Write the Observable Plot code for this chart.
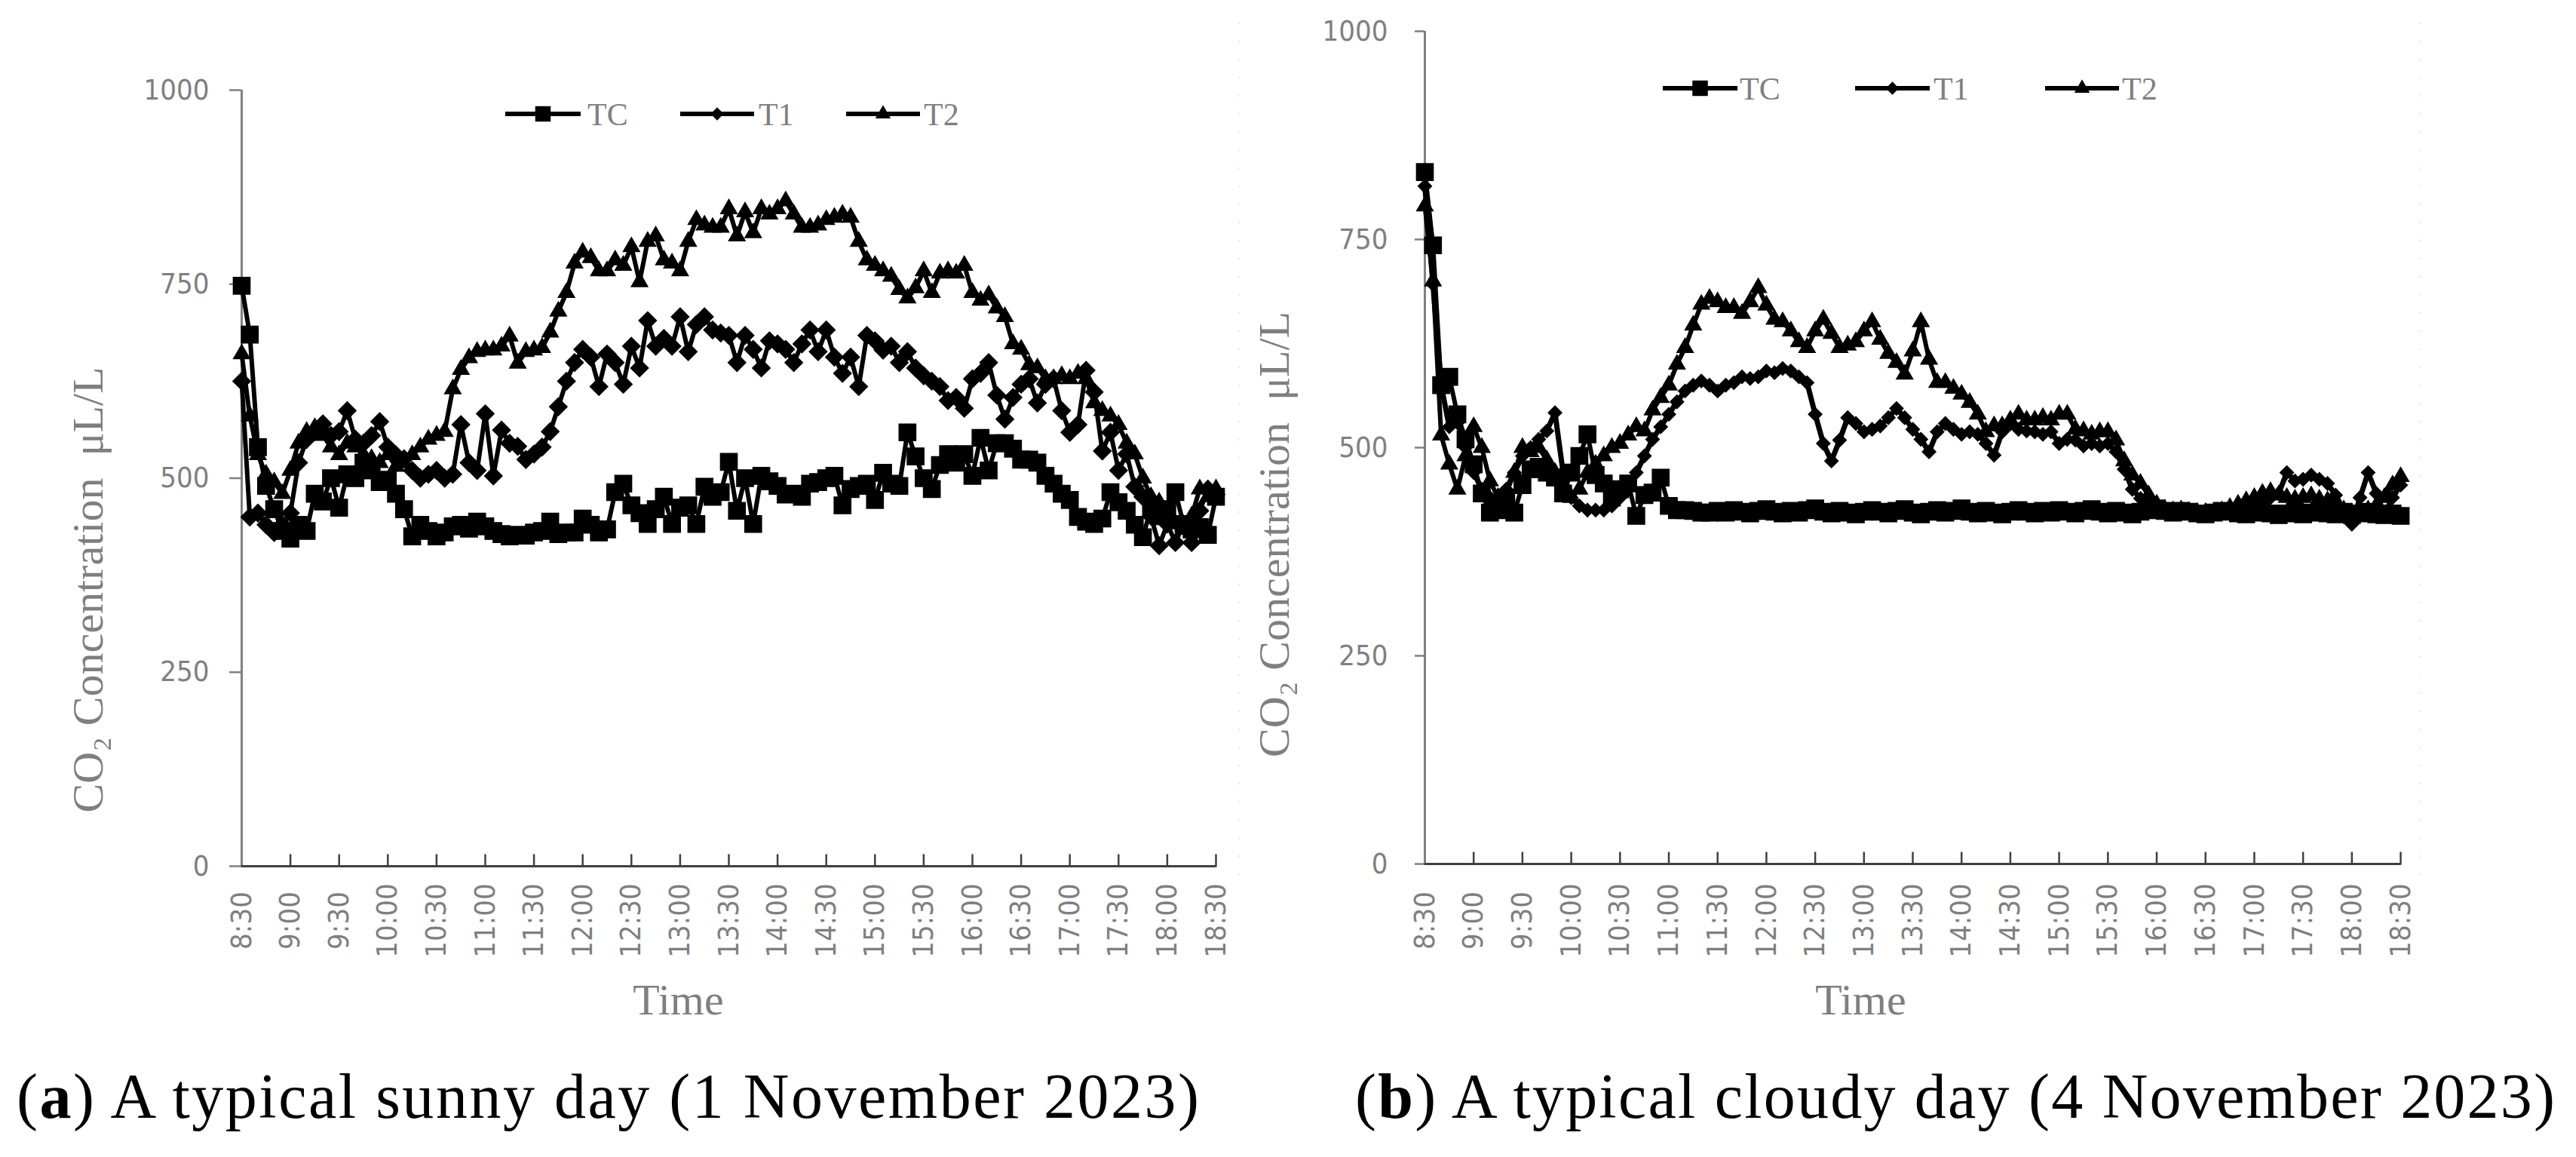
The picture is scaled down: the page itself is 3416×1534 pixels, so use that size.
<!DOCTYPE html>
<html>
<head>
<meta charset="utf-8">
<script src="https://cdn.jsdelivr.net/npm/d3@7"></script>
<script src="https://cdn.jsdelivr.net/npm/@observablehq/plot@0.6"></script>
<style>
html,body{margin:0;padding:0;background:#fff;}
#root{position:relative;width:3416px;height:1534px;overflow:hidden;background:#fff;}
#root > svg{position:absolute;top:0;}
</style>
</head>
<body>
<div id="root"></div>
<script>
// ---------------- data ----------------
const timeLabels = ["8:30","9:00","9:30","10:00","10:30","11:00","11:30","12:00","12:30","13:00","13:30","14:00","14:30","15:00","15:30","16:00","16:30","17:00","17:30","18:00","18:30"];
const yTicks = [0, 250, 500, 750, 1000];
const seriesNames = ["TC", "T1", "T2"];

// readings every 5 minutes, 8:30 .. 18:30 (121 values)
const sunnyTC = [748,685,540,490,460,432,422,440,432,480,470,500,462,505,500,520,510,495,498,480,
  460,425,440,432,425,430,438,440,435,444,438,432,428,425,427,426,430,432,444,428,
  430,430,448,440,430,434,482,493,465,455,441,460,476,441,462,465,441,489,476,482,
  521,458,500,441,503,496,490,479,480,476,493,495,500,503,465,486,490,493,472,507,
  493,490,559,528,500,486,517,531,520,531,503,552,510,545,545,538,524,524,520,503,
  493,480,472,450,444,441,448,482,469,458,440,424,462,451,460,482,441,434,437,427,476];
const sunnyT1 = [625,450,455,440,430,440,455,520,550,560,570,555,560,587,550,545,555,573,540,530,
  525,510,500,505,510,500,505,569,520,510,583,503,562,545,541,524,531,540,560,592,
  625,649,666,656,618,660,649,621,670,642,703,670,680,670,708,663,698,708,691,687,
  684,649,684,666,642,677,673,666,649,673,691,663,691,656,635,656,618,684,677,665,
  670,649,663,642,632,625,618,600,604,590,628,635,649,607,576,604,621,628,597,621,
  628,587,559,569,639,611,535,559,510,531,489,476,451,413,441,417,441,417,458,486,479];
const sunnyT2 = [660,580,530,505,495,480,510,545,560,565,555,540,530,545,540,530,525,520,530,515,
  520,530,540,550,555,560,615,640,655,663,665,665,670,683,648,663,665,668,688,715,
  739,777,791,784,767,767,781,774,798,753,805,812,781,777,767,805,833,826,823,823,
  847,812,843,816,847,840,847,857,840,823,823,826,833,836,840,836,805,781,774,767,
  760,743,732,745,767,739,764,767,764,774,739,729,736,719,708,673,666,646,642,628,
  628,632,628,635,628,597,587,580,569,545,531,500,476,469,455,441,434,451,486,476,486];

const cloudyTC = [831,743,575,585,540,510,480,445,422,425,440,422,455,474,477,470,464,445,470,490,
  516,467,457,440,450,457,418,443,446,464,430,425,425,424,422,422,424,422,425,423,
  421,424,426,423,421,424,422,425,427,423,421,424,422,420,423,425,423,421,424,426,
  422,420,423,425,422,424,427,423,421,424,422,420,423,425,423,421,424,422,425,423,
  421,424,426,423,421,424,422,420,423,425,427,424,422,424,423,421,420,422,424,423,
  421,420,422,424,421,419,421,423,420,422,424,421,420,423,419,421,423,420,419,421,418];
const cloudyT1 = [814,696,575,525,530,500,470,450,440,430,450,470,490,500,510,520,542,470,440,430,
  425,425,425,430,440,455,470,490,510,525,540,555,568,575,580,575,568,575,578,585,
  583,585,592,590,595,592,585,578,540,505,484,509,536,529,519,522,526,536,547,536,
  522,510,495,519,529,522,516,519,516,505,491,519,529,522,520,519,516,519,505,510,
  509,502,505,502,505,495,474,450,439,432,425,424,422,424,423,422,421,420,422,424,
  428,432,436,438,440,445,470,460,462,467,462,457,443,425,408,440,470,445,420,440,455];
const cloudyT2 = [790,700,515,480,450,490,525,500,460,440,445,470,500,495,500,485,470,445,440,450,
  470,480,490,500,505,515,525,520,545,560,575,600,620,647,672,679,675,668,668,661,
  675,692,671,654,651,640,627,620,640,654,637,620,623,627,640,651,630,613,602,588,
  616,651,606,578,578,571,564,554,540,519,526,526,533,540,533,533,536,533,540,540,
  522,520,516,519,519,509,484,467,457,443,432,426,424,425,423,422,422,421,424,428,
  432,436,440,445,447,443,440,438,440,442,438,436,432,425,420,420,425,430,440,455,465];

const captionTags = ["a", "b"];
const captionTexts = [" A typical sunny day (1 November 2023)", " A typical cloudy day (4 November 2023)"];

// ---------------- drawing ----------------
const STEP = 5;
const GRAY = "#7f7f7f";
const SERIF = "'Liberation Serif','Times New Roman',serif";
const SANS = "'Liberation Sans Narrow','DejaVu Sans Condensed','Roboto',sans-serif";
const tickShape = {draw(context, l) { context.moveTo(0, 0); context.lineTo(0, -l); }};

function rows(values) { return values.map((v, i) => ({t: i * STEP, v})); }

function makePanel(cfg) {
  const tickData = timeLabels.map((label, i) => ({t: i * 30, label}));
  const marks = [
    Plot.axisY(yTicks, {label: null, tickSize: cfg.tickSizeY, tickPadding: cfg.tickPadY,
      tickFormat: d => String(d), fontSize: 38, color: GRAY, strokeWidth: 2.5}),
    Plot.vector(tickData, {x: "t", frameAnchor: "bottom", length: 15, anchor: "start",
      rotate: 0, shape: tickShape, stroke: "#404040", strokeWidth: 2.5}),
    Plot.text(tickData, {x: "t", text: "label", frameAnchor: "bottom", rotate: -90,
      dy: cfg.xLabelDy, textAnchor: "middle", lineAnchor: "middle", fontSize: 38, fill: GRAY}),
    Plot.text(["Time"], {frameAnchor: "bottom", dx: cfg.timeDx, dy: cfg.timeDy,
      textAnchor: "middle", lineAnchor: "middle", fontFamily: SERIF, fontSize: 58, fill: GRAY}),
    Plot.text(["CO\u2082 Concentration\u00a0\u00a0\u03bcL/L"], {frameAnchor: "left", rotate: -90,
      dx: cfg.ylabDx, dy: cfg.ylabDy, textAnchor: "middle", lineAnchor: "middle",
      fontFamily: SERIF, fontSize: 58, fill: GRAY}),
    Plot.ruleX([0], {stroke: "#808080", strokeWidth: 3}),
    Plot.ruleY([0], {stroke: "#404040", strokeWidth: 3})
  ];
  cfg.series.forEach(s => {
    const d = rows(s.values);
    marks.push(Plot.line(d, {x: "t", y: "v", stroke: "#000", strokeWidth: s.lw}));
    marks.push(Plot.dot(d, {x: "t", y: "v", symbol: s.symbol, r: s.r, fill: "#000", stroke: "#000", strokeWidth: 1.5}));
  });
  const svg = Plot.plot({
    width: cfg.width, height: cfg.height,
    marginLeft: cfg.ml, marginRight: cfg.mr, marginTop: cfg.mt, marginBottom: cfg.mb,
    x: {domain: [0, 600], axis: null},
    y: {domain: [0, 1000]},
    style: {background: "transparent", overflow: "visible", fontFamily: SANS, maxWidth: "none"},
    marks
  });
  svg.style.left = cfg.left + "px";
  svg.style.position = "absolute";
  svg.style.top = "0px";
  return svg;
}

const root = document.getElementById("root");

root.appendChild(makePanel({
  left: 0, width: 1700, height: 1300, ml: 320, mr: 88, mt: 119, mb: 152,
  tickSizeY: 16, tickPadY: 27, xLabelDy: 72, timeDx: -67, timeDy: 178,
  ylabDx: -203, ylabDy: 148,
  series: [
    {name: seriesNames[0], values: sunnyTC, symbol: "square", r: 12.5, lw: 6},
    {name: seriesNames[1], values: sunnyT1, symbol: "diamond2", r: 10.5, lw: 6},
    {name: seriesNames[2], values: sunnyT2, symbol: "triangle", r: 8, lw: 6}
  ]
}));

root.appendChild(makePanel({
  left: 1700, width: 1716, height: 1300, ml: 189, mr: 233, mt: 41, mb: 155,
  tickSizeY: 13, tickPadY: 36, xLabelDy: 75, timeDx: -69, timeDy: 181,
  ylabDx: -199, ylabDy: 115,
  series: [
    {name: seriesNames[0], values: cloudyTC, symbol: "square", r: 12.5, lw: 6},
    {name: seriesNames[1], values: cloudyT1, symbol: "diamond2", r: 8, lw: 7},
    {name: seriesNames[2], values: cloudyT2, symbol: "triangle", r: 8, lw: 6}
  ]
}));

// overlay: legends, captions, faint panel borders
const ov = d3.select(root).append("svg")
  .attr("width", 3416).attr("height", 1534)
  .style("position", "absolute").style("left", "0px").style("top", "0px");

[1643, 3209].forEach(x => ov.append("line").attr("x1", x).attr("x2", x).attr("y1", 30).attr("y2", 1180)
  .attr("stroke", "#e6e6e6").attr("stroke-width", 2).attr("stroke-dasharray", "2 22"));

const legendSpecs = [
  {y: 151, items: [[670, 770, 779], [902, 1000, 1006], [1122, 1220, 1225]]},
  {y: 117, items: [[2205, 2304, 2307], [2460, 2559, 2564], [2712, 2810, 2814]]}
];
const legendSymbols = [d3.symbol(d3.symbolSquare, 420), d3.symbol(d3.symbolSquare, 150), d3.symbol(d3.symbolTriangle, 180)];
legendSpecs.forEach(spec => {
  spec.items.forEach((it, k) => {
    const g = ov.append("g");
    g.append("line").attr("x1", it[0]).attr("x2", it[1]).attr("y1", spec.y).attr("y2", spec.y)
      .attr("stroke", "#000").attr("stroke-width", 6);
    const cx = (it[0] + it[1]) / 2;
    g.append("path").attr("d", legendSymbols[k]())
      .attr("transform", `translate(${cx},${spec.y})` + (k === 1 ? " rotate(45)" : ""))
      .attr("fill", "#000");
    g.append("text").attr("x", it[2]).attr("y", spec.y).attr("dy", "0.35em")
      .attr("font-family", SERIF).attr("font-size", 42).attr("fill", GRAY).text(seriesNames[k]);
  });
});

const capPos = [{x: 22, w: 1568}, {x: 1797, w: 1591}];
capPos.forEach((p, k) => {
  const t = ov.append("text").attr("x", p.x).attr("y", 1482)
    .attr("font-family", SERIF).attr("font-size", 84).attr("fill", "#000")
    .attr("textLength", p.w).attr("lengthAdjust", "spacing");
  t.append("tspan").text("(");
  t.append("tspan").attr("font-weight", "bold").text(captionTags[k]);
  t.append("tspan").text(")" + captionTexts[k]);
});
</script>
</body>
</html>
